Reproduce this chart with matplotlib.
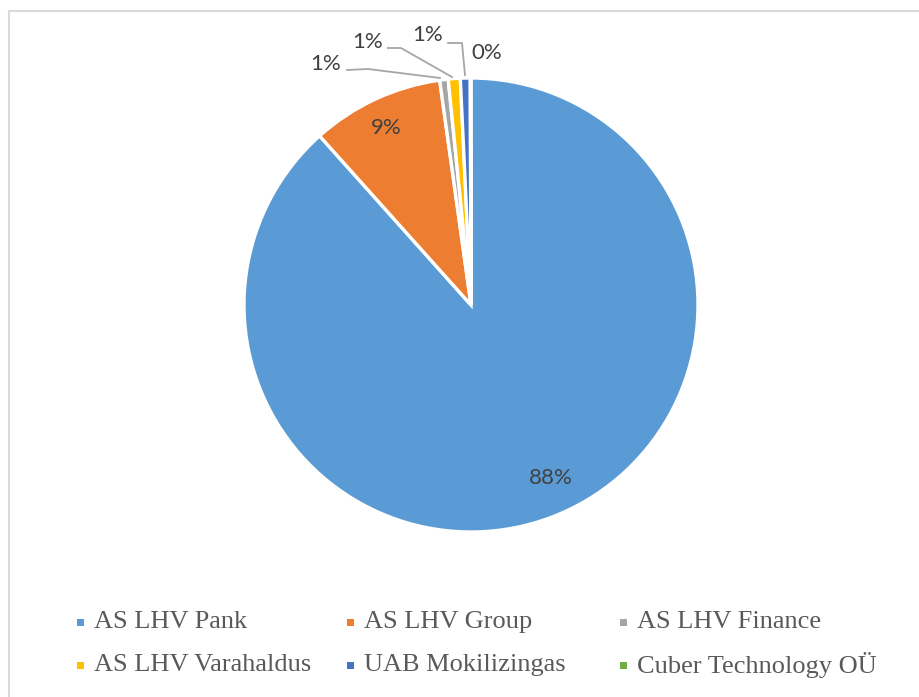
import matplotlib.pyplot as plt
from matplotlib.patches import Rectangle

# data
labels = ['AS LHV Pank', 'AS LHV Group', 'AS LHV Finance',
          'AS LHV Varahaldus', 'UAB Mokilizingas', 'Cuber Technology OÜ']
shares = [88.2, 9.4, 0.6, 0.85, 0.7, 0.05]
colors = ['#5B9BD5', '#ED7D31', '#A5A5A5', '#FFC000', '#4472C4', '#70AD47']

W, H = 920, 697
fig = plt.figure(figsize=(W / 100, H / 100), dpi=100)
ax = fig.add_axes([0, 0, 1, 1])
ax.set_xlim(0, W)
ax.set_ylim(0, H)
ax.axis('off')

# pie in pixel-like coords, center (471, 305 from top)
cx, cy, r = 471, H - 305, 227
wedges, _ = ax.pie(shares, colors=colors, startangle=90, counterclock=False,
                   center=(cx, cy), radius=r,
                   wedgeprops=dict(edgecolor='white', linewidth=2.4))
ax.set_xlim(0, W)
ax.set_ylim(0, H)
ax.set_aspect('equal', adjustable='box')

pct = ['%d%%' % round(s) for s in shares]
lab_font = dict(family=['Lato', 'DejaVu Sans'], fontsize=16, color='#404040')

# inside labels
ax.text(551, H - 478, pct[0], ha='center', va='center', **lab_font)
ax.text(386, H - 128, pct[1], ha='center', va='center', **lab_font)

# outside labels with leader lines
outside = [(2, (326, 64), [(347, 70), (368, 69), (440, 78)]),
           (3, (368, 42), [(388, 48), (401, 48), (452, 77)]),
           (4, (428, 35), [(448, 43), (462, 43), (465, 75)])]
for i, (tx, ty), pts in outside:
    ax.text(tx, H - ty, pct[i], ha='center', va='center', **lab_font)
    ax.plot([p[0] for p in pts], [H - p[1] for p in pts], color='#A6A6A6', lw=1.3)
ax.text(487, H - 53, pct[5], ha='center', va='center', **lab_font)

# legend
col_x = [77, 347, 620]
row_y = [622, 665]
for i, (lab, col) in enumerate(zip(labels, colors)):
    x = col_x[i % 3]
    y = H - row_y[i // 3]
    ax.add_patch(Rectangle((x, y - 3.5), 7, 7, facecolor=col, edgecolor='none'))
    ax.text(x + 17, y, lab, ha='left', va='center', fontsize=19,
            family='Liberation Serif', color='#595959')

# chart border (left and top visible)
ax.plot([9.5, 9.5, W], [0, H - 10.5, H - 10.5], color='#D9D9D9', lw=1.5)

fig.savefig('out.png', dpi=100)
